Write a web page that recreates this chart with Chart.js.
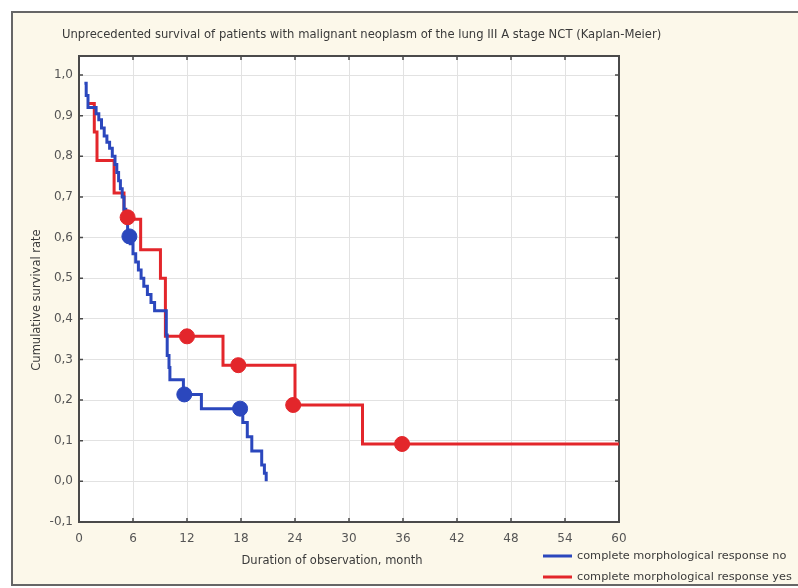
<!DOCTYPE html>
<html>
<head>
<meta charset="utf-8">
<script src="https://cdn.jsdelivr.net/npm/chart.js@4"></script>
<style>
  html, body { margin: 0; padding: 0; background: #fff; }
  canvas { display: block; }
</style>
</head>
<body>
<canvas id="kmChart" width="798" height="588"></canvas>
<script>
// Chart texts
const chartTitle = 'Unprecedented survival of patients with malignant neoplasm of the lung III A stage NCT (Kaplan-Meier)';
const xAxisTitle = 'Duration of observation, month';
const yAxisTitle = 'Cumulative survival rate';
const seriesLabels = ['complete morphological response no', 'complete morphological response yes'];

// Tick values
const xTickValues = [0, 6, 12, 18, 24, 30, 36, 42, 48, 54, 60];
const yTickValues = [-0.1, 0, 0.1, 0.2, 0.3, 0.4, 0.5, 0.6, 0.7, 0.8, 0.9, 1.0];

// Group "no": step times (month) and survival after each step
const noTimes = [0.6, 0.8, 1.0, 1.9, 2.2, 2.5, 2.8, 3.1, 3.4, 3.7, 4.0, 4.2, 4.4, 4.6, 4.8, 5.0, 5.2, 5.4, 5.7, 6.0, 6.3, 6.6, 6.9, 7.2, 7.6, 8.0, 8.4, 9.7, 9.8, 10.0, 10.1, 11.6, 13.6, 18.2, 18.7, 19.2, 20.3, 20.6, 20.8];
const noSurvival = [0.98, 0.95, 0.92, 0.905, 0.89, 0.87, 0.85, 0.835, 0.82, 0.80, 0.78, 0.76, 0.74, 0.72, 0.70, 0.67, 0.64, 0.61, 0.585, 0.56, 0.54, 0.52, 0.50, 0.48, 0.46, 0.44, 0.42, 0.36, 0.31, 0.28, 0.25, 0.214, 0.179, 0.145, 0.11, 0.075, 0.04, 0.02, 0.0];
const noCensorTimes = [5.6, 11.7, 17.9];
const noCensorSurvival = [0.603, 0.214, 0.179];

// Group "yes"
const yesTimes = [1.0, 1.7, 2.0, 3.9, 5.0, 6.85, 9.05, 9.6, 16.0, 24.0, 31.5, 60];
const yesSurvival = [0.93, 0.86, 0.79, 0.71, 0.645, 0.57, 0.50, 0.357, 0.286, 0.188, 0.092, 0.092];
const yesCensorTimes = [5.4, 12.0, 17.7, 23.8, 35.9];
const yesCensorSurvival = [0.65, 0.357, 0.286, 0.188, 0.092];

const BLUE = '#2b47bd';
const RED = '#e3262b';
const TEXT = '#3a3a3a';
const FONT = '"DejaVu Sans"';

const toPoints = (xs, ys) => xs.map((x, i) => ({ x: x, y: ys[i] }));
const fmtComma = (v) => v.toFixed(1).replace('.', ',');

// Frame, background, titles and legend
const decorPlugin = {
    id: 'decor',
    beforeDraw: (chart) => {
        const ctx = chart.ctx;
        const a = chart.chartArea;
        ctx.save();
        ctx.fillStyle = '#fff';
        ctx.fillRect(0, 0, chart.width, chart.height);
        ctx.fillStyle = '#fcf8ea';
        ctx.fillRect(12, 12, chart.width, 573);
        ctx.strokeStyle = '#666';
        ctx.lineWidth = 2;
        ctx.strokeRect(12, 12, chart.width + 10, 573);
        ctx.fillStyle = '#fff';
        ctx.fillRect(a.left, a.top, a.right - a.left, a.bottom - a.top);
        ctx.restore();
    },
    beforeDatasetsDraw: (chart) => {
        const ctx = chart.ctx;
        const a = chart.chartArea;
        const xs = chart.scales.x;
        const ys = chart.scales.y;
        ctx.save();
        ctx.strokeStyle = '#4a4a4a';
        ctx.lineWidth = 2;
        ctx.strokeRect(a.left, a.top, a.right - a.left, a.bottom - a.top);
        // small inward ticks on all four sides
        ctx.lineWidth = 1.5;
        ctx.beginPath();
        xTickValues.forEach(v => {
            const px = xs.getPixelForValue(v);
            ctx.moveTo(px, a.top); ctx.lineTo(px, a.top + 4);
            ctx.moveTo(px, a.bottom); ctx.lineTo(px, a.bottom - 4);
        });
        yTickValues.forEach(v => {
            const py = ys.getPixelForValue(v);
            ctx.moveTo(a.left, py); ctx.lineTo(a.left + 4, py);
            ctx.moveTo(a.right, py); ctx.lineTo(a.right - 4, py);
        });
        ctx.stroke();
        ctx.restore();
    },
    afterDraw: (chart) => {
        const ctx = chart.ctx;
        ctx.save();
        ctx.fillStyle = TEXT;
        ctx.textBaseline = 'middle';
        // title
        ctx.font = '11.6px ' + FONT;
        ctx.textAlign = 'left';
        ctx.fillText(chartTitle, 62, 35);
        // axis titles
        ctx.font = '11.5px ' + FONT;
        ctx.textAlign = 'center';
        ctx.fillText(xAxisTitle, 332, 561);
        ctx.translate(37, 300);
        ctx.rotate(-Math.PI / 2);
        ctx.fillText(yAxisTitle, 0, 0);
        ctx.restore();

        // legend
        ctx.save();
        ctx.font = '11.3px ' + FONT;
        ctx.textBaseline = 'middle';
        ctx.textAlign = 'left';
        const items = chart.data.datasets.filter(d => d.showLine !== false);
        items.forEach((d, i) => {
            const y = 556 + i * 21;
            ctx.strokeStyle = d.borderColor;
            ctx.lineWidth = 3;
            ctx.beginPath();
            ctx.moveTo(543, y);
            ctx.lineTo(572, y);
            ctx.stroke();
            ctx.fillStyle = TEXT;
            ctx.fillText(d.label, 577, y);
        });
        ctx.restore();
    }
};

const ctx = document.getElementById('kmChart').getContext('2d');
const chart = new Chart(ctx, {
    type: 'line',
    data: {
        datasets: [
            {
                label: seriesLabels[0],
                data: toPoints(noTimes, noSurvival),
                borderColor: BLUE,
                borderWidth: 3,
                stepped: 'before',
                pointRadius: 0,
                order: 2
            },
            {
                label: seriesLabels[1],
                data: toPoints(yesTimes, yesSurvival),
                borderColor: RED,
                borderWidth: 3,
                stepped: 'before',
                pointRadius: 0,
                order: 3
            },
            {
                label: 'censored no',
                data: toPoints(noCensorTimes, noCensorSurvival),
                showLine: false,
                pointRadius: 7.5,
                pointBackgroundColor: BLUE,
                pointBorderColor: BLUE,
                order: 1
            },
            {
                label: 'censored yes',
                data: toPoints(yesCensorTimes, yesCensorSurvival),
                showLine: false,
                pointRadius: 7.5,
                pointBackgroundColor: RED,
                pointBorderColor: RED,
                order: 1
            }
        ]
    },
    options: {
        responsive: false,
        devicePixelRatio: 1,
        animation: false,
        layout: {
            padding: { left: 0, top: 56, right: 179, bottom: 0 }
        },
        plugins: {
            legend: { display: false },
            title: { display: false },
            tooltip: { enabled: false }
        },
        scales: {
            x: {
                type: 'linear',
                min: 0,
                max: 60,
                afterBuildTicks: (scale) => {
                    scale.ticks = xTickValues.map(v => ({ value: v }));
                },
                afterFit: (scale) => { scale.height = 66; },
                grid: { color: '#e2e2e2', drawTicks: false },
                border: { display: false },
                ticks: {
                    padding: 10,
                    color: '#555',
                    font: { family: 'DejaVu Sans', size: 12 },
                    maxRotation: 0
                }
            },
            y: {
                type: 'linear',
                min: -0.1,
                max: 1.047,
                afterBuildTicks: (scale) => {
                    scale.ticks = yTickValues.map(v => ({ value: v }));
                },
                afterFit: (scale) => { scale.width = 79; },
                grid: { color: '#e2e2e2', drawTicks: false },
                border: { display: false },
                ticks: {
                    padding: 6,
                    color: '#555',
                    font: { family: 'DejaVu Sans', size: 12 },
                    callback: (v) => fmtComma(v)
                }
            }
        }
    },
    plugins: [decorPlugin]
});
</script>
</body>
</html>
